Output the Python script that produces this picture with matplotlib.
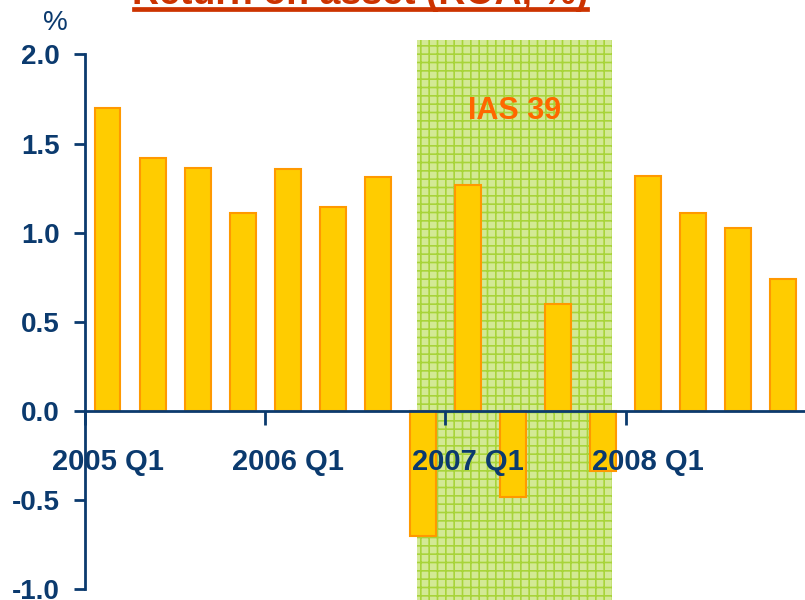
import matplotlib
matplotlib.use('Agg')

import matplotlib.pyplot as plt
from matplotlib.lines import Line2D

# =====================
# DATOS
# =====================

roa = [1.70, 1.42, 1.365, 1.11, 1.355, 1.145, 1.31, -0.70,
       1.265, -0.48, 0.60, -0.335, 1.32, 1.11, 1.025, 0.74]
quarter_labels = ["2005 Q1", "2006 Q1", "2007 Q1", "2008 Q1"]
label_positions = [0, 4, 8, 12]
tick_positions = [-0.5, 3.5, 7.5, 11.5]
yticks = [-1.0, -0.5, 0.0, 0.5, 1.0, 1.5, 2.0]
ias_span = (6.87, 11.2)

NAVY = "#0b3a6e"
BAR = "#ffcc00"
BAR_EDGE = "#ff9900"

plt.rcParams['font.family'] = ['Liberation Sans', 'DejaVu Sans']
plt.rcParams['hatch.color'] = "#a8d43a"
plt.rcParams['hatch.linewidth'] = 1.2

# =====================
# FIGURA
# =====================

fig = plt.figure(figsize=(8.05, 6.0), dpi=100)
ax = fig.add_axes([85 / 805, 0, 1 - 85 / 805, 1])

ax.set_xlim(-0.42, 15.48)
ax.set_ylim(-1.06, 2.305)
ax.set_axisbelow(False)

# zona IAS 39
ax.axvspan(ias_span[0], ias_span[1], ymin=0, ymax=(2.08 + 1.06) / (2.305 + 1.06),
           facecolor="#d3e995", edgecolor="#a8d43a", hatch="++", linewidth=0, zorder=0)
ax.text(sum(ias_span) / 2, 1.68, "IAS 39", color="#ff6600", fontsize=22,
        fontweight="bold", ha="center", va="center", zorder=1)

ax.bar(range(len(roa)), roa, width=0.575, color=BAR, edgecolor=BAR_EDGE,
       linewidth=1.5, zorder=2)

# ejes
for side in ["top", "right"]:
    ax.spines[side].set_visible(False)
ax.spines["bottom"].set_position(("data", 0))
ax.spines["bottom"].set_color(NAVY)
ax.spines["bottom"].set_linewidth(2)
ax.spines["bottom"].set_zorder(3)
ax.spines["left"].set_color(NAVY)
ax.spines["left"].set_linewidth(2)
ax.spines["left"].set_bounds(-1.0, 2.0)

ax.set_yticks(yticks)
ax.set_yticklabels([f"{v:.1f}" for v in yticks])
ax.tick_params(axis="y", direction="out", length=8, width=2, color=NAVY,
               labelsize=20, labelcolor=NAVY, pad=10)
for lbl in ax.get_yticklabels():
    lbl.set_fontweight("bold")

ax.set_xticks(tick_positions)
ax.set_xticklabels([])
ax.tick_params(axis="x", which="major", direction="out", length=10, width=2, color=NAVY)
ax.set_xticks(label_positions, minor=True)
ax.set_xticklabels(quarter_labels, minor=True)
ax.tick_params(axis="x", which="minor", length=0, labelsize=21, labelcolor=NAVY, pad=27)
for lbl in ax.get_xticklabels(minor=True):
    lbl.set_fontweight("bold")

# "%" y título (recortado arriba)
fig.text(55 / 805, 1 - 23 / 600, "%", color=NAVY, fontsize=20, ha="center", va="center")
fig.text(360 / 805, 1 - 4 / 600, "Return on asset (ROA, %)", color="#cc3300",
         fontsize=27, fontweight="bold", ha="center", va="baseline")
fig.add_artist(Line2D([134 / 805, 587 / 805], [1 - 8.5 / 600, 1 - 8.5 / 600],
                      transform=fig.transFigure, color="#cc3300", linewidth=3.4))

fig.savefig("out.png", dpi=100)
